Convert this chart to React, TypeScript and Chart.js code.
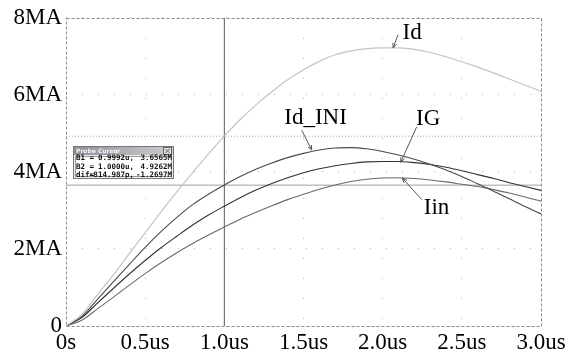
import React, { useEffect, useRef } from 'react';
import { Chart, registerables } from 'chart.js';

Chart.register(...registerables);

// time axis (us)
const timeUs = [0, 0.1, 0.2, 0.3, 0.4, 0.5, 0.6, 0.7, 0.8, 0.9, 1.0, 1.1, 1.2, 1.3, 1.4, 1.5, 1.6, 1.7, 1.8, 1.9, 2.0, 2.1, 2.2, 2.3, 2.4, 2.5, 2.6, 2.7, 2.8, 2.9, 3.0];

// currents (MA)
const idValues = [0, 0.3, 0.82, 1.33, 1.88, 2.42, 2.96, 3.48, 3.98, 4.47, 4.93, 5.36, 5.74, 6.08, 6.39, 6.65, 6.87, 7.04, 7.14, 7.2, 7.22, 7.22, 7.18, 7.1, 6.99, 6.86, 6.72, 6.57, 6.41, 6.25, 6.09];
const idIniValues = [0, 0.25, 0.7, 1.15, 1.6, 2.04, 2.45, 2.82, 3.15, 3.42, 3.66, 3.88, 4.07, 4.23, 4.37, 4.48, 4.57, 4.62, 4.63, 4.6, 4.53, 4.44, 4.33, 4.2, 4.05, 3.88, 3.69, 3.5, 3.3, 3.1, 2.91];
const igValues = [0, 0.22, 0.6, 0.98, 1.35, 1.7, 2.03, 2.33, 2.62, 2.88, 3.11, 3.33, 3.53, 3.7, 3.85, 3.98, 4.08, 4.16, 4.22, 4.26, 4.27, 4.27, 4.24, 4.19, 4.12, 4.03, 3.93, 3.83, 3.72, 3.62, 3.52];
const iinValues = [0, 0.15, 0.45, 0.75, 1.06, 1.36, 1.64, 1.9, 2.14, 2.36, 2.57, 2.77, 2.95, 3.12, 3.28, 3.42, 3.55, 3.66, 3.75, 3.81, 3.84, 3.85, 3.83, 3.79, 3.74, 3.68, 3.62, 3.54, 3.45, 3.35, 3.24];

const xTickValues = [0, 0.5, 1.0, 1.5, 2.0, 2.5, 3.0];
const xTickLabels = ['0s', '0.5us', '1.0us', '1.5us', '2.0us', '2.5us', '3.0us'];
const yTickValues = [0, 2, 4, 6, 8];
const yTickLabels = ['0', '2MA', '4MA', '6MA', '8MA'];

// probe cursors
const cursorB1 = { t: 0.9992, v: 3.6565 };
const cursorB2 = { t: 1.0, v: 4.9262 };
const probeTitle = 'Probe Cursor';
const probeRows = [
  ['B1 =', '0.9992u,', '3.6565M'],
  ['B2 =', '1.0000u,', '4.9262M'],
  ['dif=', '-814.987p,', '-1.2697M'],
];
// probe box corners in data units (us, MA)
const probeBox = { x0: 0.042, y0: 4.68, x1: 0.682, y1: 3.81 };

// curve labels: text anchor (baseline centre) and arrow from -> to, data units
const curveLabels = [
  { text: 'Id', at: [2.186, 7.44], from: [2.097, 7.56], to: [2.066, 7.22] },
  { text: 'Id_INI', at: [1.576, 5.25], from: [1.489, 5.08], to: [1.552, 4.57] },
  { text: 'IG', at: [2.287, 5.21], from: [2.215, 5.17], to: [2.114, 4.25] },
  { text: 'Iin', at: [2.34, 2.9], from: [2.247, 3.28], to: [2.124, 3.84] },
];

const toPts = (ys: number[]) => ys.map((y, i) => ({ x: timeUs[i], y }));

const overlayPlugin = {
  id: 'overlay',
  afterDatasetsDraw(chart: any) {
    const { ctx, chartArea: a, scales } = chart;
    const sx = scales.x, sy = scales.y;
    ctx.save();
    // dashed frame
    ctx.strokeStyle = '#8a8a8a';
    ctx.lineWidth = 1;
    ctx.setLineDash([3, 2]);
    ctx.strokeRect(Math.round(a.left) + 0.5, Math.round(a.top) + 0.5, Math.round(a.right - a.left), Math.round(a.bottom - a.top));
    ctx.setLineDash([]);

    // curve labels and arrows
    ctx.fillStyle = '#000';
    ctx.font = '23px "Liberation Serif", "Times New Roman", serif';
    ctx.textAlign = 'center';
    ctx.textBaseline = 'alphabetic';
    for (const l of curveLabels) {
      ctx.fillText(l.text, sx.getPixelForValue(l.at[0]), sy.getPixelForValue(l.at[1]));
      const fx = sx.getPixelForValue(l.from[0]), fy = sy.getPixelForValue(l.from[1]);
      const tx = sx.getPixelForValue(l.to[0]), ty = sy.getPixelForValue(l.to[1]);
      ctx.strokeStyle = '#555';
      ctx.lineWidth = 1;
      ctx.beginPath();
      ctx.moveTo(fx, fy);
      ctx.lineTo(tx, ty);
      const ang = Math.atan2(ty - fy, tx - fx);
      ctx.moveTo(tx, ty);
      ctx.lineTo(tx - 5 * Math.cos(ang - 0.4), ty - 5 * Math.sin(ang - 0.4));
      ctx.moveTo(tx, ty);
      ctx.lineTo(tx - 5 * Math.cos(ang + 0.4), ty - 5 * Math.sin(ang + 0.4));
      ctx.stroke();
    }

    // probe cursor box
    const bx0 = Math.round(sx.getPixelForValue(probeBox.x0));
    const by0 = Math.round(sy.getPixelForValue(probeBox.y0));
    const bx1 = Math.round(sx.getPixelForValue(probeBox.x1));
    const by1 = Math.round(sy.getPixelForValue(probeBox.y1));
    const w = bx1 - bx0, h = by1 - by0;
    ctx.fillStyle = '#eeeeee';
    ctx.fillRect(bx0, by0, w, h);
    const grad = ctx.createLinearGradient(bx0, 0, bx1, 0);
    grad.addColorStop(0, '#8e8e98');
    grad.addColorStop(1, '#cfcfd2');
    ctx.fillStyle = grad;
    ctx.fillRect(bx0 + 1, by0 + 1, w - 2, 8);
    ctx.strokeStyle = '#777';
    ctx.strokeRect(bx0 + 0.5, by0 + 0.5, w - 1, h - 1);
    // close button
    ctx.fillStyle = '#ddd';
    ctx.fillRect(bx1 - 10, by0 + 2, 7, 6);
    ctx.strokeStyle = '#666';
    ctx.strokeRect(bx1 - 10.5, by0 + 1.5, 8, 7);
    ctx.beginPath();
    ctx.moveTo(bx1 - 8.5, by0 + 3); ctx.lineTo(bx1 - 4.5, by0 + 7);
    ctx.moveTo(bx1 - 4.5, by0 + 3); ctx.lineTo(bx1 - 8.5, by0 + 7);
    ctx.stroke();
    ctx.fillStyle = '#f4f4f4';
    ctx.font = 'bold 6px "DejaVu Sans"';
    ctx.textAlign = 'left';
    ctx.textBaseline = 'middle';
    ctx.fillText(probeTitle, bx0 + 3, by0 + 5.5);
    // text area
    ctx.fillStyle = '#fff';
    ctx.fillRect(bx0 + 2, by0 + 10, w - 4, h - 12);
    ctx.strokeStyle = '#999';
    ctx.strokeRect(bx0 + 2.5, by0 + 10.5, w - 5, h - 13);
    ctx.fillStyle = '#111';
    ctx.font = 'bold 7.5px "DejaVu Sans Mono", monospace';
    probeRows.forEach((r, i) => {
      const yy = by0 + 12 + i * 8.6;
      ctx.textAlign = 'left';
      ctx.fillText(r[0], bx0 + 3, yy);
      ctx.textAlign = 'right';
      ctx.fillText(r[1], bx0 + 61, yy);
      ctx.fillText(r[2], bx1 - 2, yy);
    });
    ctx.restore();
  },
};

export default function App() {
  const ref = useRef<HTMLCanvasElement | null>(null);
  useEffect(() => {
    if (!ref.current) return;
    const serif = '"Liberation Serif", "Times New Roman", serif';
    const chart = new Chart(ref.current, {
      type: 'line',
      data: {
        datasets: [
          { label: 'Id', data: toPts(idValues), borderColor: '#c4c4c4', borderWidth: 1.2, pointRadius: 0, cubicInterpolationMode: 'monotone', order: 1 },
          { label: 'Id_INI', data: toPts(idIniValues), borderColor: '#4a4a4a', borderWidth: 1.1, pointRadius: 0, cubicInterpolationMode: 'monotone', order: 1 },
          { label: 'IG', data: toPts(igValues), borderColor: '#333333', borderWidth: 1.1, pointRadius: 0, cubicInterpolationMode: 'monotone', order: 1 },
          { label: 'Iin', data: toPts(iinValues), borderColor: '#6a6a6a', borderWidth: 1.1, pointRadius: 0, cubicInterpolationMode: 'monotone', order: 1 },
          { label: 'B2 time', data: [{ x: cursorB2.t, y: 0 }, { x: cursorB2.t, y: 8 }], borderColor: '#5a5a5a', borderWidth: 1, pointRadius: 0, order: 2 },
          { label: 'B1 level', data: [{ x: 0, y: cursorB1.v }, { x: 3, y: cursorB1.v }], borderColor: '#a0a0a0', borderWidth: 1, pointRadius: 0, order: 2 },
          { label: 'B2 level', data: [{ x: 0, y: cursorB2.v }, { x: 3, y: cursorB2.v }], borderColor: '#a8a8a8', borderWidth: 1, borderDash: [1, 2], pointRadius: 0, order: 2 },
        ],
      },
      options: {
        responsive: false,
        animation: false,
        layout: { padding: { top: 15, right: 29, left: 0, bottom: 0 } },
        plugins: { legend: { display: false }, tooltip: { enabled: false } },
        scales: {
          x: {
            type: 'linear',
            min: 0,
            max: 3,
            afterFit: (s: any) => { s.height = 34; },
            afterBuildTicks: (s: any) => { s.ticks = xTickValues.map((v) => ({ value: v })); },
            ticks: {
              color: '#000',
              font: { family: serif, size: 23 },
              padding: 3,
              maxRotation: 0,
              autoSkip: false,
              callback: (v: any) => { const i = xTickValues.indexOf(Number(v)); return i >= 0 ? xTickLabels[i] : ''; },
            },
            grid: { color: '#b4b4b4', lineWidth: 1, drawTicks: false },
            border: { display: false, dash: [1, 19] },
          },
          y: {
            type: 'linear',
            min: 0,
            max: 8,
            afterFit: (s: any) => { s.width = 66; },
            afterBuildTicks: (s: any) => { s.ticks = yTickValues.map((v) => ({ value: v })); },
            ticks: {
              color: '#000',
              font: { family: serif, size: 23 },
              padding: 4,
              autoSkip: false,
              callback: (v: any) => { const i = yTickValues.indexOf(Number(v)); return i >= 0 ? yTickLabels[i] : ''; },
            },
            grid: { color: '#b4b4b4', lineWidth: 1, drawTicks: false },
            border: { display: false, dash: [1, 15] },
          },
        },
      },
      plugins: [overlayPlugin],
    } as any);
    return () => chart.destroy();
  }, []);
  return (
    <div style={{ position: 'absolute', left: 0, top: 0, width: 570, height: 360, background: '#fff' }}>
      <canvas ref={ref} width={570} height={360} />
    </div>
  );
}
